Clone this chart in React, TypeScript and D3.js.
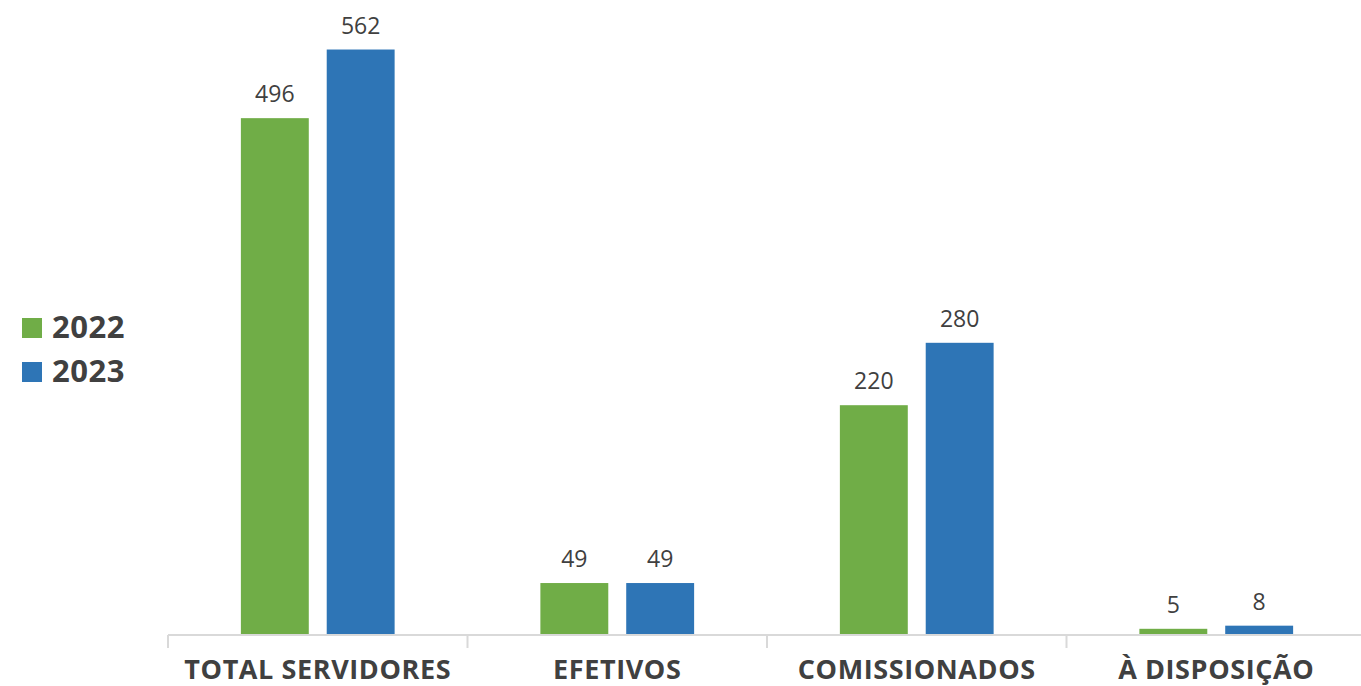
import React from "react";
import * as d3 from "d3";

const categories = ["TOTAL SERVIDORES", "EFETIVOS", "COMISSIONADOS", "À DISPOSIÇÃO"];
const seriesNames = ["2022", "2023"];
const values2022 = [496, 49, 220, 5];
const values2023 = [562, 49, 280, 8];
const colors = ["#70AD47", "#2E75B6"];

const W = 1361;
const H = 686;
const FONT = "'Open Sans', 'DejaVu Sans', sans-serif";

const App = () => {
  const x0 = d3.scaleBand<string>().domain(categories).range([168, 1366]).padding(0);
  const x1 = d3
    .scaleBand<string>()
    .domain(seriesNames)
    .range([0, x0.bandwidth()])
    .paddingInner(0.209)
    .paddingOuter(0.849);
  const y = d3.scaleLinear().domain([0, 600]).range([634, 10]);
  const series = [values2022, values2023];
  const ticks = categories.map((c) => x0(c) as number);

  return (
    <svg
      width={W}
      height={H}
      style={{ position: "absolute", left: 0, top: 0, background: "#fff" }}
      fontFamily={FONT}
    >
      {/* bars + value labels */}
      {categories.map((c, ci) => (
        <g key={c} transform={`translate(${x0(c)},0)`}>
          {seriesNames.map((s, si) => {
            const v = series[si][ci];
            const bx = x1(s) as number;
            return (
              <g key={s}>
                <rect
                  x={bx}
                  y={y(v)}
                  width={x1.bandwidth()}
                  height={y(0) - y(v)}
                  fill={colors[si]}
                />
                <text
                  x={bx + x1.bandwidth() / 2}
                  y={y(v) - 16}
                  textAnchor="middle"
                  fontSize={23}
                  fill="#404040"
                >
                  {v}
                </text>
              </g>
            );
          })}
        </g>
      ))}

      {/* category axis */}
      <line x1={168} x2={1366} y1={635} y2={635} stroke="#d9d9d9" strokeWidth={2} />
      {ticks.map((t, i) => (
        <line key={i} x1={t} x2={t} y1={635} y2={648} stroke="#d9d9d9" strokeWidth={2} />
      ))}
      {categories.map((c) => (
        <text
          key={c}
          x={(x0(c) as number) + x0.bandwidth() / 2}
          y={679}
          textAnchor="middle"
          fontSize={27}
          letterSpacing={0.6}
          fontWeight="bold"
          fill="#404040"
        >
          {c}
        </text>
      ))}

      {/* legend */}
      {seriesNames.map((s, i) => (
        <g key={s} transform={`translate(22,${318 + i * 44})`}>
          <rect width={20} height={20} fill={colors[i]} />
          <text x={30} y={20} fontSize={31} fontWeight="bold" letterSpacing={0.5} fill="#404040">
            {s}
          </text>
        </g>
      ))}
    </svg>
  );
};

export default App;
